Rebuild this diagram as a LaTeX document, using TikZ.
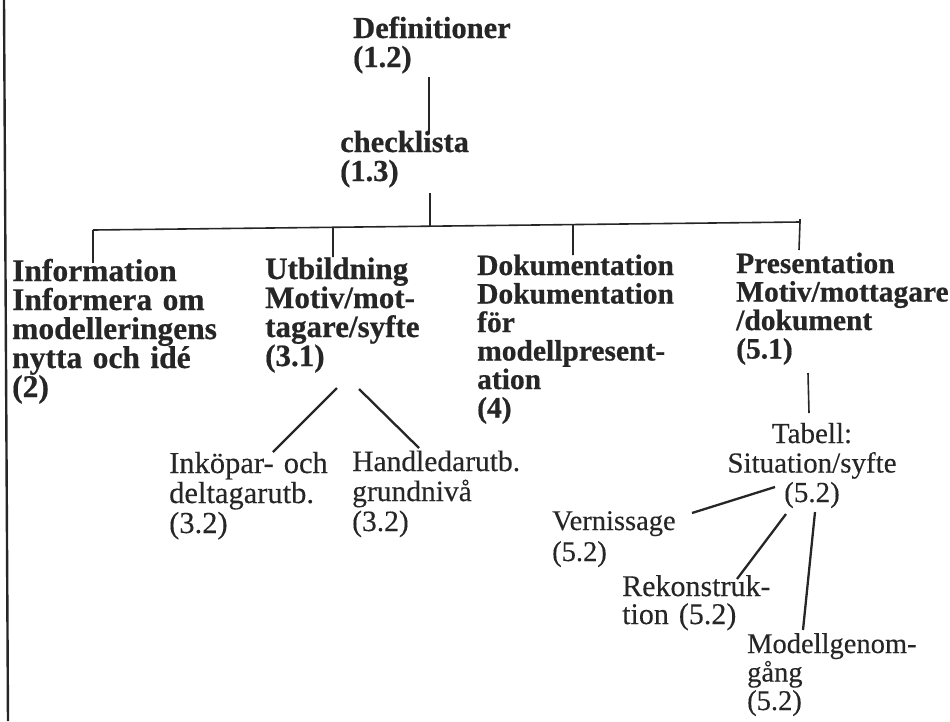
\documentclass[tikz,border=0pt]{standalone}
\usepackage{fontspec}
\setmainfont{Liberation Serif}[UprightFeatures={FakeBold=0.25},BoldFeatures={FakeBold=0.6}]
\usetikzlibrary{calc}
\definecolor{ink}{HTML}{262626}
\tikzset{
  lbl/.style={anchor=base west, inner sep=0pt, align=left, text width=240pt, text=ink},
  boldlbl/.style={lbl, font=\fontsize{30.5}{29}\selectfont\bfseries},
  reglbl/.style={lbl, font=\fontsize{29.5}{30}\selectfont},
  conn/.style={draw=ink, line width=1.6pt},
  diag/.style={draw=ink, line width=2.3pt},
}
\begin{document}
\begin{tikzpicture}[x=1pt,y=-1pt]
\useasboundingbox (0,0) rectangle (950,721);
% frame line on the left
\draw[ink, line width=2.4pt] (4,0) -- (8,721);

% nodes
\node[boldlbl] (def) at (353,38) {Definitioner\\(1.2)};
\node[boldlbl] (chk) at (340,152) {checklista\\(1.3)};
\node[boldlbl, font=\fontsize{31.5}{29}\selectfont\bfseries] (info) at (12,281) {Information\\Informera om\\modelleringens\\nytta och idé\\(2)};
\node[boldlbl, font=\fontsize{31}{29}\selectfont\bfseries] (utb) at (265,279) {Utbildning\\Motiv/mot-\\tagare/syfte\\(3.1)};
\node[boldlbl, font=\fontsize{29.5}{28.5}\selectfont\bfseries] (dok) at (477,275) {Dokumentation\\Dokumentation\\för\\modellpresent-\\ation\\(4)};
\node[boldlbl, font=\fontsize{29.5}{28.5}\selectfont\bfseries] (pres) at (736,273) {Presentation\\Motiv/mottagare\\/dokument\\(5.1)};
\node[reglbl, anchor=base, align=center, text width=200pt, font=\fontsize{29}{29.5}\selectfont] (tab) at (812,443) {Tabell:\\Situation/syfte\\(5.2)};
\node[reglbl, font=\fontsize{30.5}{30}\selectfont] (inkop) at (169,473) {Inköpar- och\\deltagarutb.\\(3.2)};
\node[reglbl] (handl) at (352,471) {Handledarutb.\\grundnivå\\(3.2)};
\node[reglbl, font=\fontsize{28.5}{31}\selectfont] (vern) at (552,530) {Vernissage\\(5.2)};
\node[reglbl, font=\fontsize{30}{28}\selectfont] (rek) at (622,596) {Rekonstruk-\\tion (5.2)};
\node[reglbl, font=\fontsize{28.5}{28.5}\selectfont] (modg) at (747,653) {Modellgenom-\\gång\\(5.2)};

% bus
\coordinate (busL) at (93,230);
\coordinate (busR) at (800,222);
\draw[conn] (busL) -- (busR);
\draw[conn] (busR) -- ++(0,-3);

% connectors
\draw[conn] ($(def.base west)+(76,39)$) -- ($(chk.base west)+(89,-18)$);
\draw[conn] ($(chk.base west)+(90,41)$) -- ($(busL)!0.4767!(busR)$);
\draw[conn] (busL) -- ($(info.base west)+(81,-18)$);
\draw[conn] ($(busL)!0.3395!(busR)$) -- ($(utb.base west)+(68,-22)$);
\draw[conn] ($(busL)!0.6789!(busR)$) -- ($(dok.base west)+(96,-20)$);
\draw[conn] (busR) -- ($(pres.base west)+(63,-23)$);
\draw[conn] ($(pres.base west)+(72,100)$) -- ($(tab.base)+(-3,-30)$);

\draw[diag] ($(utb.base west)+(72,109)$) -- ($(inkop.base west)+(104,-21)$);
\draw[diag] ($(utb.base west)+(94,110)$) -- ($(handl.base west)+(67,-23)$);
\draw[diag] ($(tab.base)+(-37,44)$) -- ($(vern.base west)+(140,-17)$);
\draw[diag] ($(tab.base)+(-26,71)$) -- ($(rek.base west)+(115,-17)$);
\draw[diag] ($(tab.base)+(3,69)$) -- ($(modg.base west)+(56,-23)$);
\end{tikzpicture}
\end{document}
